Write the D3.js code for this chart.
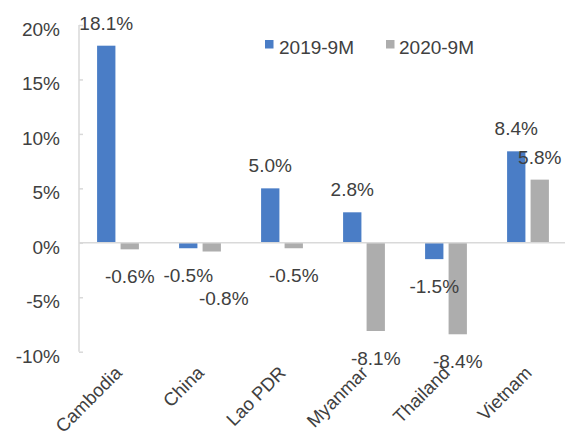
<!DOCTYPE html>
<html>
<head>
<meta charset="utf-8">
<script src="https://cdn.jsdelivr.net/npm/d3@7"></script>
<style>
  html, body { margin: 0; padding: 0; background: #fff; }
  svg text { font-family: "Liberation Sans", Arial, sans-serif; fill: #404040; }
</style>
</head>
<body>
<svg id="chart" width="565" height="440"></svg>
<script>
const categories = ["Cambodia", "China", "Lao PDR", "Myanmar", "Thailand", "Vietnam"];
const seriesNames = ["2019-9M", "2020-9M"];
const values2019 = [18.1, -0.5, 5.0, 2.8, -1.5, 8.4];
const values2020 = [-0.6, -0.8, -0.5, -8.1, -8.4, 5.8];
const yTicks = [20, 15, 10, 5, 0, -5, -10];

const colors = { "2019-9M": "#4A7DC6", "2020-9M": "#ADADAD" };
const svg = d3.select("#chart");
const W = 565, H = 440;
const axisX = 79;

const y = d3.scaleLinear().domain([-10, 20]).range([351.7, 25]);
const x = d3.scaleBand().domain(categories).range([77, 569])
  .paddingInner(0.49).paddingOuter(0.245);
const xs = d3.scaleBand().domain(seriesNames).range([0, x.bandwidth()]).paddingInner(0.22);

const data = [];
categories.forEach((c, i) => {
  data.push({ cat: c, s: seriesNames[0], v: values2019[i] });
  data.push({ cat: c, s: seriesNames[1], v: values2020[i] });
});

// Y axis
const yAxis = d3.axisLeft(y).tickValues(yTicks).tickSize(-4).tickPadding(0)
  .tickFormat(d => d + "%");
const gy = svg.append("g").attr("transform", `translate(${axisX},0)`).call(yAxis);
gy.select(".domain").attr("stroke", "#d9d9d9").attr("stroke-width", 1.5).attr("d", `M0,${y(20)}V${y(-10)}`);
gy.selectAll(".tick line").attr("stroke", "#d9d9d9").attr("stroke-width", 1.5);
gy.selectAll(".tick text")
  .attr("x", -19).attr("dy", null).attr("y", 10.5)
  .attr("text-anchor", "end")
  .style("font-size", "19px").style("fill", "#404040");

// Bars
svg.append("g").selectAll("rect").data(data).join("rect")
  .attr("x", d => x(d.cat) + xs(d.s))
  .attr("width", xs.bandwidth())
  .attr("y", d => y(Math.max(0, d.v)))
  .attr("height", d => Math.abs(y(d.v) - y(0)))
  .attr("fill", d => colors[d.s]);

// Zero line
svg.append("line")
  .attr("x1", axisX).attr("x2", W)
  .attr("y1", y(0)).attr("y2", y(0))
  .attr("stroke", "#d9d9d9").attr("stroke-width", 1.5);

// Data labels
const nudge = { "China|2020-9M": [12, 19] };
svg.append("g").selectAll("text").data(data).join("text")
  .attr("x", d => x(d.cat) + xs(d.s) + xs.bandwidth() / 2 + ((nudge[d.cat + "|" + d.s] || [0, 0])[0]))
  .attr("y", d => (d.v >= 0 ? y(d.v) - 16 : y(d.v) + 34) + ((nudge[d.cat + "|" + d.s] || [0, 0])[1]))
  .attr("text-anchor", "middle")
  .style("font-size", "19px")
  .text(d => d.v.toFixed(1) + "%");

// X axis labels
svg.append("g").selectAll("text").data(categories).join("text")
  .attr("transform", d => `translate(${x(d) + x.bandwidth() / 2 + 5},374) rotate(-45)`)
  .attr("text-anchor", "end")
  .style("font-size", "18.5px")
  .text(d => d);

// Legend
const legendPos = [{ sx: 265, tx: 279 }, { sx: 386, tx: 399 }];
const lg = svg.append("g");
seriesNames.forEach((s, i) => {
  lg.append("rect").attr("x", legendPos[i].sx).attr("y", 40).attr("width", 8.5).attr("height", 8.5)
    .attr("fill", colors[s]);
  lg.append("text").attr("x", legendPos[i].tx).attr("y", 54).style("font-size", "19px").text(s);
});
</script>
</body>
</html>
